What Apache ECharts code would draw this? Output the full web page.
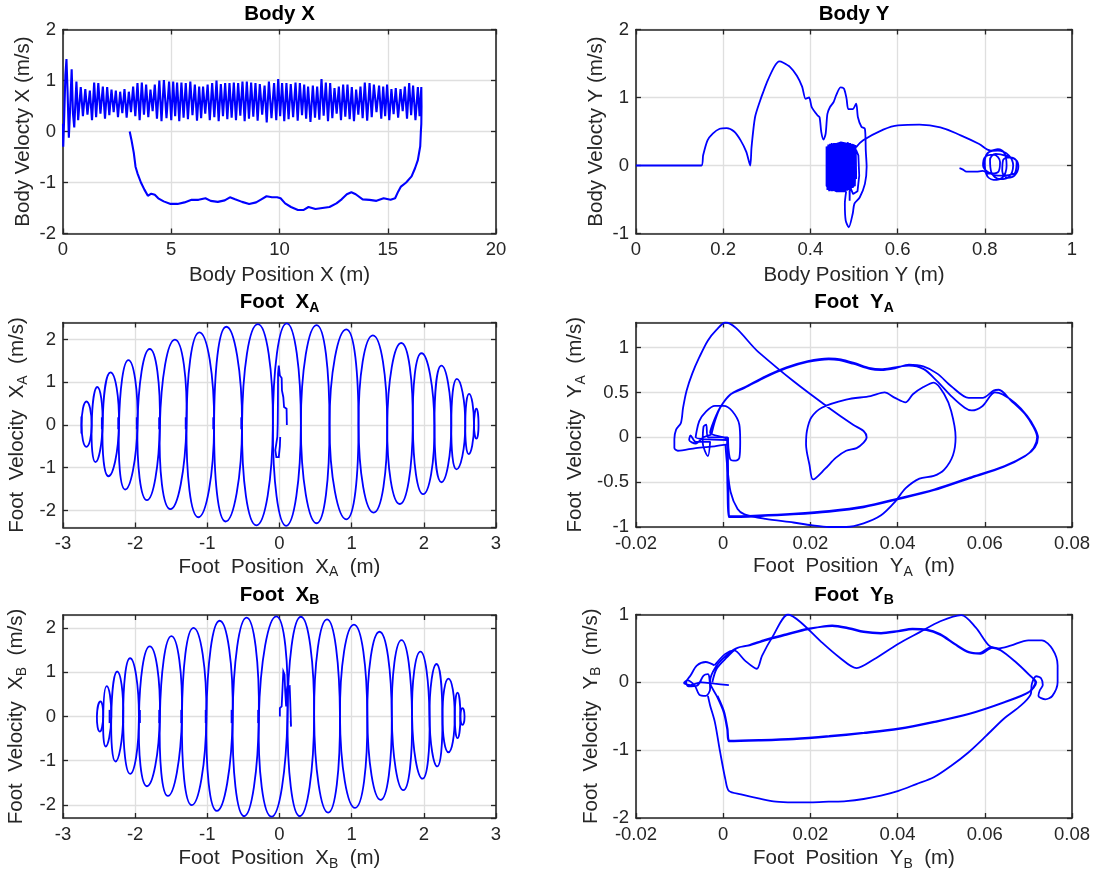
<!DOCTYPE html>
<html>
<head>
<meta charset="utf-8">
<title>Body and foot phase portraits</title>
<script src="https://cdn.jsdelivr.net/npm/echarts@6/dist/echarts.min.js"></script>
<style>
  html, body { margin: 0; padding: 0; background: #ffffff; }
  #chart { width: 1098px; height: 876px; }
</style>
</head>
<body>
<div id="chart"></div>
<script>
// ---------------- Body X: velocity (m/s) against position (m) ----------------
// forward walk with step oscillation, then the return sweep below zero
const bodyXTrace = [
  [0.00,0.15],[0.01,-0.30],[0.06,0.35],[0.11,1.10],[0.16,1.42],[0.21,0.80],[0.27,-0.12],[0.33,0.45],[0.40,1.22],[0.46,0.35],[0.52,0.08],[0.57,0.55],[0.62,0.98],[0.70,0.22],
  [0.82,0.87],[0.92,0.30],[1.03,0.83],[1.13,0.33],[1.24,0.80],[1.34,0.22],[1.44,0.96],[1.53,0.28],[1.63,0.95],[1.73,0.35],[1.84,0.88],[1.94,0.25],[2.04,0.87],[2.14,0.32],[2.24,0.82],[2.34,0.38],[2.44,0.80],[2.54,0.28],[2.64,0.78],[2.74,0.36],[2.84,0.83],[2.94,0.27],[3.04,0.78],[3.14,0.38],[3.24,0.88],[3.34,0.30],[3.44,0.95],[3.54,0.22],[3.64,0.96],[3.74,0.33],[3.84,0.92],[3.94,0.28],[4.04,0.82],[4.14,0.40],[4.24,0.92],[4.34,0.25],[4.45,1.00],[4.55,0.20],[4.66,1.01],[4.78,0.26],
  [4.90,0.98],[5.00,0.22],[5.09,0.98],[5.18,0.30],[5.27,0.96],[5.37,0.20],[5.47,0.96],[5.57,0.27],[5.67,0.95],[5.77,0.24],[5.88,0.98],[5.98,0.32],[6.09,0.92],[6.19,0.21],[6.29,0.88],[6.38,0.26],[6.47,0.88],[6.57,0.35],[6.68,0.92],[6.78,0.22],[6.89,0.95],[6.99,0.28],[7.09,1.00],[7.19,0.20],[7.29,0.93],[7.39,0.30],[7.49,0.95],[7.59,0.24],[7.69,0.95],[7.79,0.27],[7.89,0.96],[7.99,0.22],[8.09,0.95],[8.19,0.31],[8.29,0.98],[8.39,0.20],[8.49,0.98],[8.59,0.25],[8.69,0.96],[8.79,0.29],[8.89,0.95],[8.99,0.21],[9.09,0.93],[9.20,0.33],[9.31,0.90],[9.41,0.18],[9.51,0.98],[9.63,0.26],
  [9.75,0.95],[9.85,0.22],[9.94,1.03],[10.03,0.30],[10.12,0.95],[10.22,0.20],[10.32,0.95],[10.42,0.24],[10.52,0.93],[10.63,0.28],[10.74,0.96],[10.84,0.21],[10.94,0.95],[11.04,0.32],[11.14,0.92],[11.23,0.25],[11.32,0.88],[11.43,0.19],[11.54,0.90],[11.64,0.27],[11.74,0.88],[11.84,0.23],[11.94,1.03],[12.04,0.31],[12.14,0.96],[12.24,0.20],[12.34,0.95],[12.44,0.26],[12.54,0.85],[12.64,0.35],[12.74,0.88],[12.84,0.22],[12.94,0.92],[13.04,0.29],[13.14,0.92],[13.24,0.24],[13.34,0.87],[13.44,0.20],[13.54,0.82],[13.64,0.33],[13.74,0.88],[13.84,0.26],[13.94,0.96],[14.05,0.21],[14.16,0.95],[14.26,0.28],[14.36,0.92],[14.48,0.38],
  [14.60,0.90],[14.70,0.25],[14.79,0.88],[14.88,0.30],[14.97,0.92],[15.07,0.22],[15.17,0.83],[15.27,0.34],[15.37,0.85],[15.48,0.27],[15.59,0.83],[15.69,0.40],[15.79,0.88],[15.89,0.25],[15.99,0.95],[16.08,0.32],[16.17,0.90],[16.28,0.22],[16.39,0.87],[16.47,0.30],[16.55,0.87],
  [16.56,0.50],[16.55,0.15],[16.53,0.00],[16.50,-0.29],[16.39,-0.56],[16.26,-0.72],[16.10,-0.88],[15.85,-1.00],[15.61,-1.08],[15.48,-1.18],[15.34,-1.31],[15.13,-1.34],[14.81,-1.31],[14.48,-1.36],[14.16,-1.34],[13.84,-1.33],[13.52,-1.23],[13.32,-1.19],[13.11,-1.23],[12.87,-1.33],[12.63,-1.41],[12.31,-1.48],[11.98,-1.50],[11.66,-1.52],[11.34,-1.48],[11.10,-1.54],[10.85,-1.54],[10.53,-1.48],[10.26,-1.41],[10.05,-1.31],[9.89,-1.29],[9.65,-1.29],[9.40,-1.27],[9.16,-1.33],[8.92,-1.39],[8.60,-1.42],[8.27,-1.38],[7.95,-1.33],[7.71,-1.29],[7.47,-1.35],[7.15,-1.38],[6.82,-1.36],[6.58,-1.31],[6.26,-1.34],[5.94,-1.34],[5.61,-1.39],[5.29,-1.42],[4.97,-1.42],[4.65,-1.37],[4.40,-1.31],[4.24,-1.24],[4.08,-1.22],[3.92,-1.26],[3.76,-1.14],[3.60,-1.00],[3.44,-0.82],[3.35,-0.69],[3.27,-0.42],[3.16,-0.16],[3.08,0.00]
];

// ---------------- Body Y ----------------
const bodyYPath = [
  [0,0],[0.15,0],[0.154,0.15],[0.164,0.37],[0.176,0.47],[0.192,0.54],[0.208,0.55],[0.225,0.5],[0.24,0.37],[0.253,0.2],[0.262,0],
  [0.265,0.27],[0.273,0.71],[0.285,0.96],[0.293,1.1],[0.3,1.22],[0.317,1.45],[0.329,1.53],[0.338,1.51],[0.353,1.45],[0.369,1.32],[0.381,1.16],[0.389,0.98],[0.397,1.0],[0.403,0.86],[0.416,0.74],[0.421,0.71],[0.425,0.49],[0.43,0.38],[0.435,0.47],[0.439,0.76],[0.445,0.86],[0.453,0.93],[0.459,1.03],[0.469,1.15],[0.477,1.13],[0.483,0.98],[0.487,0.83],[0.497,0.83],[0.505,0.91],[0.509,0.71],[0.517,0.57],[0.525,0.54],[0.527,0.22],[0.529,-0.02],[0.525,-0.27],[0.513,-0.47],[0.501,-0.56],[0.497,-0.71],[0.488,-0.91],[0.481,-0.81],[0.479,-0.56],[0.482,-0.38]
];
// fast sway while the body hovers around 0.44-0.50 m
const bodyYSway = [
  [0.482,-0.38],[0.46,-0.38],[0.437,-0.30],[0.437,0.28],[0.439,-0.36],[0.441,0.31],[0.443,-0.38],[0.445,0.32],[0.447,-0.37],[0.449,0.33],[0.451,-0.38],[0.453,0.32],[0.455,-0.37],[0.457,0.33],[0.459,-0.38],[0.461,0.32],[0.463,-0.37],[0.465,0.33],[0.467,-0.38],[0.469,0.34],[0.471,-0.37],[0.473,0.33],[0.475,-0.38],[0.477,0.32],[0.479,-0.36],[0.481,0.33],[0.483,-0.37],[0.485,0.32],[0.487,-0.35],[0.489,0.33],[0.490,-0.52],[0.492,0.31],[0.494,-0.33],[0.496,0.30],[0.498,-0.32],[0.500,0.29],[0.502,-0.30],[0.504,0.28],[0.505,-0.20],
  [0.503,0.30],[0.501,-0.31],[0.499,0.31],[0.497,-0.33],[0.495,0.32],[0.493,-0.34],[0.491,0.33],[0.488,-0.36],[0.486,0.34],[0.484,-0.37],[0.482,0.33],[0.480,-0.38],[0.478,0.34],[0.476,-0.37],[0.474,0.32],[0.472,-0.38],[0.470,0.33],[0.468,-0.37],[0.466,0.34],[0.464,-0.38],[0.462,0.33],[0.460,-0.37],[0.458,0.32],[0.456,-0.38],[0.454,0.33],[0.452,-0.37],[0.450,0.32],[0.448,-0.38],[0.446,0.31],[0.444,-0.37],[0.442,0.30],[0.440,-0.36],[0.438,0.27],
  [0.47,0.34],[0.50,0.30],[0.51,0.15],[0.512,-0.15],[0.508,-0.38],[0.498,-0.42],[0.49,-0.30],[0.492,0.0],[0.50,0.22],[0.505,0.27]
];
// drift to the second resting region and its settling loops
const bodyYDrift = [
  [0.505,0.27],[0.521,0.37],[0.561,0.51],[0.601,0.59],[0.65,0.60],[0.698,0.56],[0.746,0.44],[0.786,0.32],[0.814,0.22],
  [0.83,0.24],[0.845,0.18],[0.85,0.0],[0.84,-0.18],[0.82,-0.21],[0.803,-0.12],[0.80,0.05],[0.81,0.20],[0.83,0.22],[0.855,0.15],[0.865,0.0],[0.855,-0.17],[0.835,-0.20],[0.815,-0.10],[0.812,0.08],[0.825,0.17],[0.85,0.14],[0.872,0.08],[0.877,-0.02],[0.868,-0.15],[0.853,-0.18],[0.84,-0.08],[0.842,0.08],[0.86,0.12],[0.873,0.05],[0.87,-0.10],[0.855,-0.14],[0.83,-0.15],[0.808,-0.10],[0.796,0.0],[0.80,0.12],[0.82,0.16],[0.835,0.05],[0.83,-0.10],[0.81,-0.12],[0.795,-0.08],[0.78,-0.09],[0.758,-0.09],[0.75,-0.06],[0.742,-0.04]
];

// ---------------- Foot X_A: one loop per step ----------------
const footXAEdges = [-2.743,-2.603,-2.452,-2.225,-1.968,-1.658,-1.289,-0.906,-0.519,-0.092,0.296,0.693,1.095,1.493,1.847,2.147,2.380,2.574,2.695,2.758];
const footXATops = [[-2.675,0.55],[-2.525,0.89],[-2.341,1.23],[-2.094,1.52],[-1.798,1.78],[-1.449,2.00],[-1.110,2.17],[-0.737,2.30],[-0.300,2.36],[0.100,2.38],[0.514,2.34],[0.926,2.24],[1.294,2.10],[1.687,1.92],[1.968,1.68],[2.244,1.39],[2.458,1.08],[2.627,0.73],[2.729,0.38]];
const footXABottoms = [[-2.676,-0.51],[-2.550,-0.87],[-2.370,-1.20],[-2.138,-1.51],[-1.837,-1.76],[-1.512,-1.97],[-1.125,-2.16],[-0.746,-2.26],[-0.320,-2.35],[0.092,-2.36],[0.514,-2.30],[0.926,-2.21],[1.304,-2.05],[1.667,-1.85],[1.990,-1.62],[2.244,-1.34],[2.453,-1.04],[2.622,-0.68],[2.729,-0.32]];
const footXAStart = [[0.102,0],[0.098,0.38],[0.063,0.42],[0.053,0.65],[0.034,0.81],[0.03,1.1],[0.005,1.16],[-0.01,1.39],[-0.02,1.2],[-0.022,0.5],[-0.025,0.0],[-0.03,-0.28],[-0.058,-0.59],[-0.044,-0.75],[-0.01,-0.75],[0.005,-0.5],[0.01,-0.28]];
const footXATouchdowns = [[-2.745,-0.20,0.20],[-2.462,-0.10,0.18],[-2.235,-0.10,0.18],[-1.978,-0.10,0.18],[-1.668,-0.10,0.18],[-1.300,-0.10,0.18],[-0.918,-0.10,0.18],[-0.530,-0.10,0.18]];

// ---------------- Foot Y_A ----------------
const footYASwing = [
  [0.0012,-0.08],[-0.002,-0.10],[-0.0063,-0.12],[-0.0104,-0.15],[-0.0112,-0.12],[-0.0112,-0.02],[-0.0108,0.086],[-0.0097,0.16],[-0.0092,0.33],[-0.0084,0.52],[-0.0071,0.71],[-0.0055,0.89],[-0.0035,1.08],[-0.0015,1.2],[0.0005,1.28],
  [0.0081,0.95],[0.016,0.63],[0.0242,0.33],[0.0298,0.14],[0.0322,0.07],[0.0329,0.0],[0.0322,-0.06],[0.0306,-0.12],[0.0282,-0.15],[0.0258,-0.23],[0.0234,-0.35],[0.0206,-0.47],[0.0198,-0.31],[0.019,-0.08],[0.0192,0.07],[0.0202,0.22],[0.0226,0.33],[0.0282,0.42],[0.0338,0.46],[0.037,0.50],[0.0394,0.44],[0.0418,0.39],[0.0435,0.48],[0.0459,0.56],[0.0483,0.61],
  [0.0507,0.48],[0.0523,0.29],[0.0533,0.0],[0.0527,-0.2],[0.0507,-0.36],[0.0483,-0.43],[0.045,-0.46],[0.0418,-0.57],[0.0394,-0.72],[0.0362,-0.87],[0.0322,-0.96],[0.0282,-1.0],[0.0242,-1.0],[0.0202,-0.98],[0.0161,-0.95],[0.0097,-0.91],[0.0049,-0.86],[0.0033,-0.8],[0.0017,-0.61],[0.0009,-0.31],[0.0005,-0.08]
];
const footYACycle = [
  [-0.0027,0.03],[-0.0019,0.18],[-0.0007,0.33],[0.0017,0.48],[0.0049,0.55],[0.0097,0.67],[0.0145,0.77],[0.0194,0.84],[0.0242,0.87],[0.0266,0.86],[0.0298,0.82],[0.0338,0.76],[0.0362,0.75],[0.0394,0.77],[0.0426,0.81],[0.0459,0.79],[0.0491,0.71],[0.0523,0.57],[0.0563,0.44],[0.0595,0.44],[0.062,0.52],[0.0632,0.53],[0.066,0.41],[0.0692,0.26],[0.0712,0.11],[0.072,0.0],[0.0712,-0.12],[0.0692,-0.21],[0.0643,-0.33],[0.0563,-0.46],[0.0483,-0.59],[0.0402,-0.69],[0.0322,-0.78],[0.0242,-0.83],[0.0161,-0.86],[0.0081,-0.88],[0.0013,-0.89],[0.001,-0.61],[0.0009,-0.23],[0.0009,-0.03],
  [-0.003,0.05],[-0.002,0.2],[-0.0005,0.35],[0.002,0.49],[0.005,0.56],[0.0097,0.68],[0.0145,0.78],[0.0194,0.85],[0.0242,0.88],[0.027,0.87],[0.03,0.83],[0.0338,0.77],[0.0362,0.76],[0.0394,0.78],[0.0426,0.8],[0.046,0.76],[0.049,0.63],[0.0525,0.45],[0.0554,0.33],[0.057,0.3],[0.0595,0.35],[0.0623,0.5],[0.064,0.48],[0.067,0.38],[0.0697,0.24],[0.0715,0.1],[0.0722,0.0],[0.0715,-0.11],[0.0695,-0.2],[0.0645,-0.32],[0.0565,-0.45],[0.0485,-0.58],[0.0403,-0.68],[0.0323,-0.77],[0.0243,-0.82],[0.0162,-0.85],[0.0082,-0.87],[0.0014,-0.88],[0.0012,-0.6],[0.0011,-0.2],[0.0011,0.0]
];
const footYAKnot = [
  [0.0009,-0.03],[-0.0063,0.0],[-0.0055,0.18],[-0.0039,0.29],[-0.0019,0.35],[0.0001,0.35],[0.0021,0.29],[0.0037,0.14],[0.0039,-0.05],[0.0037,-0.23],[0.0029,-0.26],[0.0017,-0.25],[0.0012,-0.12],[0.001,0.0],[-0.0035,0.0],[-0.0039,0.14],[-0.0045,0.12],[-0.0047,-0.06],[-0.0035,-0.21],[-0.003,-0.05],[-0.0063,-0.05],[-0.0075,0.02],[-0.0078,-0.03],[-0.0063,-0.07],[-0.0045,0.0],[-0.0027,0.03]
];

// ---------------- Foot X_B ----------------
const footXBEdges = [-2.530,-2.443,-2.331,-2.166,-1.948,-1.658,-1.352,-1.013,-0.649,-0.286,0.111,0.480,0.838,1.217,1.556,1.837,2.079,2.258,2.428,2.506,2.564];
const footXBTops = [[-2.481,0.34],[-2.394,0.69],[-2.249,1.02],[-2.070,1.32],[-1.798,1.59],[-1.498,1.82],[-1.192,2.01],[-0.829,2.17],[-0.456,2.24],[-0.044,2.27],[0.296,2.26],[0.659,2.20],[1.032,2.08],[1.386,1.92],[1.691,1.73],[1.953,1.47],[2.176,1.19],[2.341,0.86],[2.467,0.54],[2.535,0.19]];
const footXBBottoms = [[-2.491,-0.34],[-2.409,-0.68],[-2.273,-1.02],[-2.070,-1.30],[-1.837,-1.58],[-1.546,-1.80],[-1.216,-2.01],[-0.868,-2.14],[-0.490,-2.26],[-0.111,-2.27],[0.281,-2.26],[0.674,-2.18],[1.047,-2.07],[1.401,-1.89],[1.716,-1.67],[1.982,-1.41],[2.186,-1.13],[2.341,-0.81],[2.467,-0.49],[2.535,-0.19]];
const footXBStart = [[0.005,0.0],[0.005,0.19],[0.03,0.23],[0.053,1.02],[0.07,0.95],[0.078,0.6],[0.092,0.23],[0.1,0.6],[0.111,0.68],[0.141,0.69],[0.15,0.3],[0.16,-0.23],[0.155,-0.1]];
const footXBTouchdowns = [[-2.355,-0.15,0.15],[-2.166,-0.15,0.15],[-1.934,-0.15,0.15],[-1.667,-0.15,0.15],[-1.362,-0.15,0.15],[-1.023,-0.15,0.15],[-0.664,-0.15,0.15],[-0.296,-0.15,0.15]];

// ---------------- Foot Y_B ----------------
const footYBCycle = [
  [-0.0025,0.0],[-0.0015,0.2],[0.0009,0.37],[0.0033,0.51],[0.0057,0.54],[0.0097,0.62],[0.0145,0.70],[0.0194,0.78],[0.025,0.84],[0.029,0.80],[0.0322,0.75],[0.0362,0.73],[0.0402,0.76],[0.0434,0.79],[0.0466,0.78],[0.0498,0.71],[0.0531,0.57],[0.0563,0.45],[0.0587,0.43],[0.0615,0.52],[0.0635,0.48],[0.0667,0.32],[0.07,0.12],[0.0716,0.0],[0.07,-0.15],[0.0643,-0.30],[0.0563,-0.47],[0.0482,-0.59],[0.0402,-0.69],[0.0322,-0.75],[0.0242,-0.80],[0.0161,-0.84],[0.0081,-0.86],[0.0013,-0.87],[0.0009,-0.69],[0.0001,-0.44],[-0.0015,-0.2],[-0.0028,-0.05],
  [-0.003,0.02],[-0.0018,0.22],[0.0006,0.39],[0.003,0.5],[0.006,0.55],[0.0097,0.63],[0.0145,0.71],[0.0194,0.79],[0.025,0.83],[0.029,0.79],[0.0322,0.74],[0.0362,0.72],[0.0402,0.75],[0.0434,0.78],[0.0466,0.77],[0.0498,0.70],[0.0531,0.56],[0.0563,0.44],[0.059,0.42],[0.0617,0.51],[0.0637,0.47],[0.0669,0.31],[0.0702,0.11],[0.0718,0.0],[0.0702,-0.14],[0.0645,-0.29],[0.0565,-0.46],[0.0484,-0.58],[0.0403,-0.68],[0.0323,-0.74],[0.0243,-0.79],[0.0162,-0.83],[0.0082,-0.85],[0.0015,-0.86],[0.001,-0.68],[0.0002,-0.43],[-0.0013,-0.2]
];
const footYBSwing = [
  [-0.0035,-0.2],[-0.003,-0.34],[-0.0019,-0.59],[-0.0007,-1.03],[0.0005,-1.43],[0.0013,-1.6],[0.0041,-1.65],[0.0081,-1.71],[0.0121,-1.76],[0.0161,-1.77],[0.0201,-1.77],[0.0242,-1.76],[0.0282,-1.75],[0.0322,-1.72],[0.0362,-1.67],[0.0402,-1.6],[0.0443,-1.5],[0.0483,-1.4],[0.0523,-1.23],[0.0563,-1.03],[0.0603,-0.79],[0.0643,-0.54],[0.0683,-0.34],[0.0705,-0.18],
  [0.0708,-0.02],[0.0718,0.09],[0.0729,0.06],[0.0733,-0.04],[0.0726,-0.12],[0.0723,-0.2],[0.0739,-0.25],[0.0755,-0.2],[0.0767,0.0],[0.0767,0.25],[0.0755,0.49],[0.0731,0.62],[0.07,0.62],[0.0659,0.54],[0.063,0.5],
  [0.061,0.54],[0.0579,0.81],[0.0546,0.99],[0.0498,0.9],[0.0451,0.74],[0.0402,0.57],[0.0346,0.34],[0.0306,0.21],[0.0266,0.37],[0.0226,0.59],[0.0177,0.89],[0.0149,1.0],[0.0113,0.67],[0.0089,0.39],[0.0077,0.2],[0.005,0.32],[0.0025,0.47],[0.0005,0.42],[-0.002,0.25]
];
const footYBKnot = [
  [-0.002,0.25],[-0.004,0.3],[-0.006,0.25],[-0.0075,0.1],[-0.0085,0.0],[-0.008,-0.06],[-0.006,-0.05],[-0.0045,0.1],[-0.0035,0.12],[-0.003,-0.1],[-0.004,-0.2],[-0.0055,-0.18],[-0.0065,-0.05],[-0.0082,0.03],[-0.009,-0.01],[-0.0075,-0.04],[-0.005,0.0],[-0.002,-0.02],[0.0013,-0.04]
];

// ---------------- layout and styling ----------------
const FONT = '"Liberation Sans", Arial, Helvetica, sans-serif';
const INK = '#262626';
const BLUE = '#0000ff';
const GRIDLINE = '#dfdfdf';
const LINE_W = 1.8;

const nameRich = {
  n: { fontFamily: FONT, fontSize: 20.5, color: INK, lineHeight: 26 },
  s: { fontFamily: FONT, fontSize: 14, color: INK, lineHeight: 14, padding: [11, 0, 0, 0] }
};
const titleRich = {
  t: { fontFamily: FONT, fontSize: 20.5, fontWeight: 'bold', color: '#000000', lineHeight: 26 },
  s: { fontFamily: FONT, fontSize: 14, fontWeight: 'bold', color: '#000000', lineHeight: 14, padding: [11, 0, 0, 0] }
};

// limits: [min, max, interval (null = automatic), showMinLabel, showMaxLabel]
const panels = [
  { grid: { left: 63, top: 29.5, width: 433, height: 204 }, title: '{t|Body X}', titleTop: 1.5,
    xLim: [0, 20, 5], yLim: [-2, 2, 1],
    xName: '{n|Body Position X (m)}', yName: '{n|Body Velocty X (m/s)}', xGap: 28.5, yGap: 27 },
  { grid: { left: 636, top: 29.5, width: 436, height: 204 }, title: '{t|Body Y}', titleTop: 1.5,
    xLim: [0, 1, 0.2], yLim: [-1, 2, 1],
    xName: '{n|Body Position Y (m)}', yName: '{n|Body Velocty Y (m/s)}', xGap: 28.5, yGap: 26.7 },
  { grid: { left: 63, top: 322.5, width: 433, height: 205 }, title: '{t|Foot  X}{s|A}', titleTop: 289.5,
    xLim: [-3, 3, 1], yLim: [-2.4, 2.4, null, false, false],
    xName: '{n|Foot  Position  X}{s|A}{n|  (m)}', yName: '{n|Foot  Velocity  X}{s|A}{n|  (m/s)}', xGap: 25.8, yGap: 32.5 },
  { grid: { left: 636, top: 322.5, width: 436, height: 204.5 }, title: '{t|Foot  Y}{s|A}', titleTop: 289.5,
    xLim: [-0.02, 0.08, 0.02], yLim: [-1, 1.28, null, true, false],
    xName: '{n|Foot  Position  Y}{s|A}{n|  (m)}', yName: '{n|Foot  Velocity  Y}{s|A}{n|  (m/s)}', xGap: 26, yGap: 47.7 },
  { grid: { left: 63, top: 615, width: 433, height: 203 }, title: '{t|Foot  X}{s|B}', titleTop: 582,
    xLim: [-3, 3, 1], yLim: [-2.3, 2.3, null, false, false],
    xName: '{n|Foot  Position  X}{s|B}{n|  (m)}', yName: '{n|Foot  Velocity  X}{s|B}{n|  (m/s)}', xGap: 27.3, yGap: 33.2 },
  { grid: { left: 636, top: 614.5, width: 436, height: 203.5 }, title: '{t|Foot  Y}{s|B}', titleTop: 582,
    xLim: [-0.02, 0.08, 0.02], yLim: [-2, 1, 1],
    xName: '{n|Foot  Position  Y}{s|B}{n|  (m)}', yName: '{n|Foot  Velocity  Y}{s|B}{n|  (m/s)}', xGap: 27.3, yGap: 32 }
];

function makeAxis(gridIndex, position, lim, name, gap, primary) {
  const ax = {
    type: 'value', gridIndex, position, min: lim[0], max: lim[1],
    axisLine: { show: true, onZero: false, lineStyle: { color: INK, width: 1.6 } },
    axisTick: { show: true, inside: true, length: 5, lineStyle: { color: INK, width: 1.3 } },
    axisLabel: { show: primary, color: INK, fontFamily: FONT, fontSize: 18.5, margin: 7 },
    splitLine: { show: primary, lineStyle: { color: GRIDLINE, width: 1.3 } },
    axisPointer: { show: false }
  };
  if (lim[2] != null) ax.interval = lim[2]; else ax.splitNumber = 5;
  if (lim[3] === false) ax.axisLabel.showMinLabel = false;
  if (lim[4] === false) ax.axisLabel.showMaxLabel = false;
  if (primary && name) {
    ax.name = name;
    ax.nameLocation = 'middle';
    ax.nameGap = gap;
    ax.nameTextStyle = { fontFamily: FONT, fontSize: 20.5, color: INK, rich: nameRich };
  }
  return ax;
}

function trace(i, data, smooth, width) {
  return {
    type: 'line', xAxisIndex: 2 * i, yAxisIndex: 2 * i, data,
    smooth: smooth || false, showSymbol: false, symbol: 'none', silent: true,
    lineStyle: { color: BLUE, width: width || LINE_W }, z: 3
  };
}

// closed or open outlines drawn through the cartesian scales
function outlines(i, paths, closed, smooth) {
  return {
    type: 'custom', coordinateSystem: 'cartesian2d', xAxisIndex: 2 * i, yAxisIndex: 2 * i,
    silent: true, z: 3,
    data: paths.map((p, k) => [p[0][0], p[0][1], k]),
    renderItem: (params, api) => ({
      type: closed ? 'polygon' : 'polyline',
      shape: { points: paths[params.dataIndex].map(pt => api.coord(pt)), smooth: smooth },
      style: { fill: 'none', stroke: BLUE, lineWidth: LINE_W }
    })
  };
}

function stepLoops(edges, tops, bottoms) {
  return tops.map((t, k) => [[edges[k], 0], t, [edges[k + 1], 0], bottoms[k]]);
}
function touchdowns(list) {
  return list.map(s => [[s[0], s[1]], [s[0], s[2]]]);
}

const option = { animation: false, backgroundColor: '#ffffff', title: [], grid: [], xAxis: [], yAxis: [], series: [] };

panels.forEach((p, i) => {
  option.grid.push(Object.assign({ containLabel: false }, p.grid));
  option.title.push({
    text: p.title, left: p.grid.left + p.grid.width / 2, top: p.titleTop,
    textAlign: 'center', textVerticalAlign: 'top', padding: 0,
    textStyle: { rich: titleRich }
  });
  option.xAxis.push(makeAxis(i, 'bottom', p.xLim, p.xName, p.xGap, true));
  option.xAxis.push(makeAxis(i, 'top', p.xLim, null, 0, false));
  option.yAxis.push(makeAxis(i, 'left', p.yLim, p.yName, p.yGap, true));
  option.yAxis.push(makeAxis(i, 'right', p.yLim, null, 0, false));
});

option.series.push(
  trace(0, bodyXTrace, false, 2.1),
  trace(1, bodyYPath, 0.25),
  trace(1, bodyYSway, false),
  trace(1, bodyYDrift, 0.4),
  outlines(2, stepLoops(footXAEdges, footXATops, footXABottoms), true, 0.55),
  outlines(2, [footXAStart], false, 0),
  outlines(2, touchdowns(footXATouchdowns), false, 0),
  trace(3, footYASwing, 0.3),
  trace(3, footYACycle, 0.3),
  trace(3, footYAKnot, 0.3),
  outlines(4, stepLoops(footXBEdges, footXBTops, footXBBottoms), true, 0.55),
  outlines(4, [footXBStart], false, 0),
  outlines(4, touchdowns(footXBTouchdowns), false, 0),
  trace(5, footYBCycle, 0.3),
  trace(5, footYBSwing, 0.3),
  trace(5, footYBKnot, 0.3)
);

const chart = echarts.init(document.getElementById('chart'), null, { renderer: 'canvas', width: 1098, height: 876 });
chart.setOption(option);
</script>
</body>
</html>
